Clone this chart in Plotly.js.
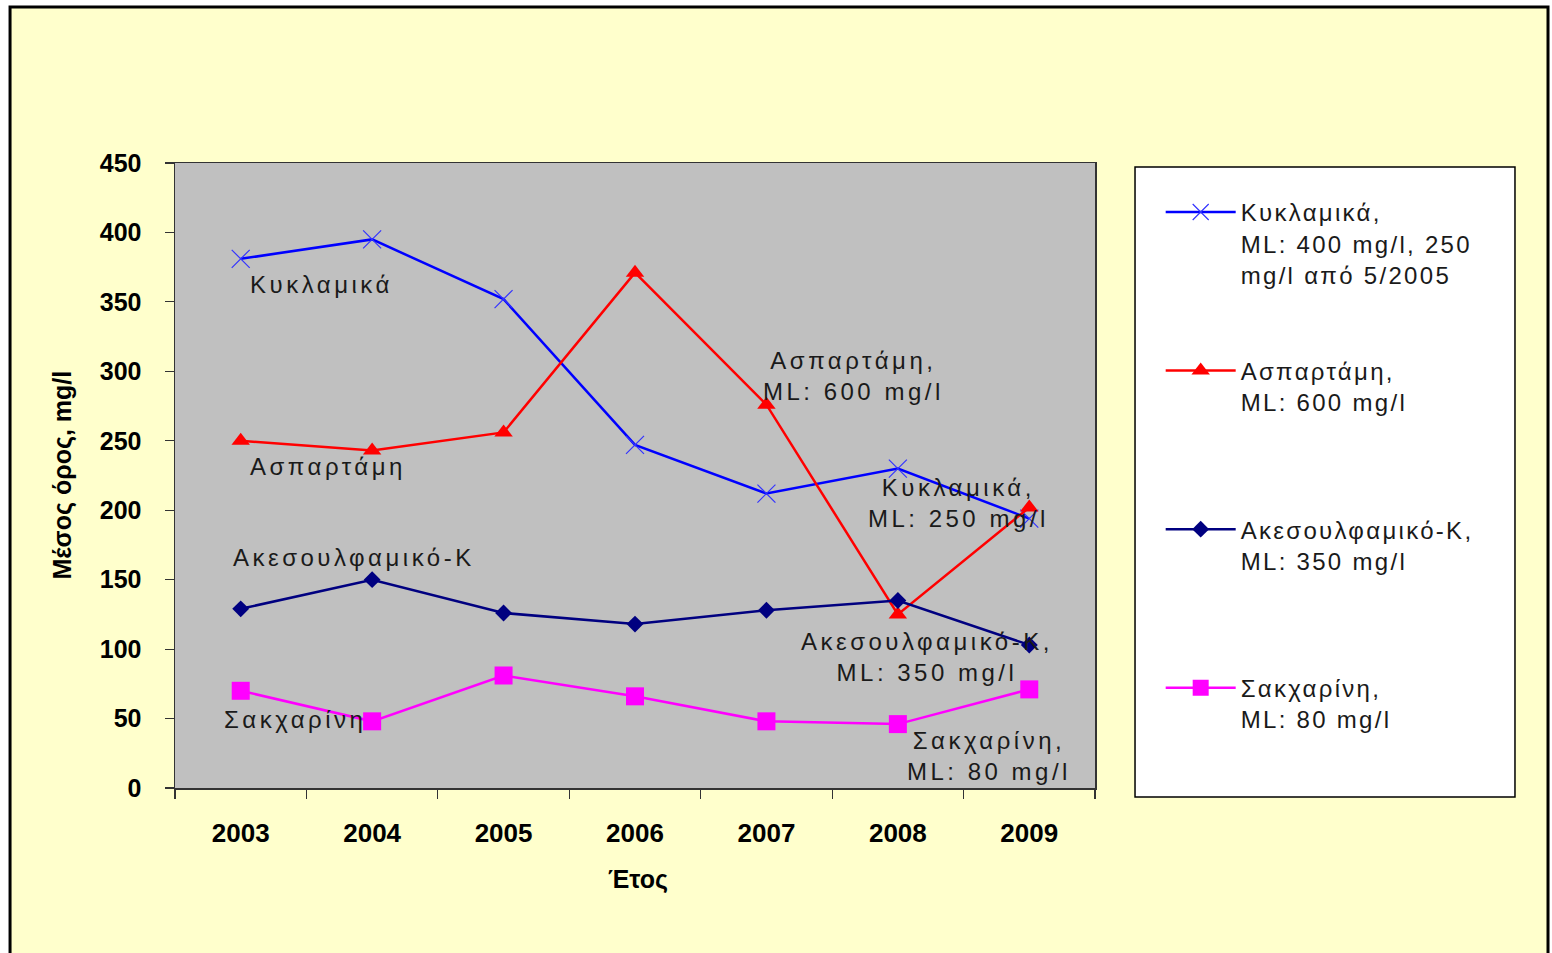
<!DOCTYPE html>
<html><head><meta charset="utf-8">
<script src="https://cdn.plot.ly/plotly-3.0.1.min.js"></script>
<style>
html,body{margin:0;padding:0;background:#fff;}
#chart{width:1552px;height:953px;}
text[style*="Liberation"]{letter-spacing:2.3px;}
text[style*="Liberation"][style*="Arial"]{letter-spacing:3.5px;}
</style>
</head><body><div id="chart"></div>
<script>
const years = ['2003','2004','2005','2006','2007','2008','2009'];
const kyklamika = [381, 395, 352, 247, 212, 230, 194];
const aspartami = [250, 243, 256, 371, 276, 125, 202];
const akesoulfamiko = [129, 150, 126, 118, 128, 135, 103];
const sakcharini = [70, 48, 81, 66, 48, 46, 71];
const yTickVals = [0, 50, 100, 150, 200, 250, 300, 350, 400, 450];
const seriesNames = [
  'Κυκλαμικά,<br>ML: 400 mg/l, 250<br>mg/l από 5/2005',
  'Ασπαρτάμη,<br>ML: 600 mg/l<br>&nbsp;',
  'Ακεσουλφαμικό-Κ,<br>ML: 350 mg/l<br>&nbsp;',
  'Σακχαρίνη,<br>ML: 80 mg/l<br>&nbsp;'
];
const xTitle = 'Έτος';
const yTitle = 'Μέσος όρος, mg/l';

const labelFont = {family: 'Liberation Sans', size: 24, color: '#1a1a1a'};
const annFont = {family: 'Liberation Sans, Arial', size: 24, color: '#1a1a1a'};

function tr(y, name, color, symbol, size, grp, extra) {
  return Object.assign({
    type: 'scatter', mode: 'lines+markers', x: years, y: y, name: name,
    legendgroup: grp,
    line: {color: color, width: 2.5},
    marker: {symbol: symbol, size: size, color: color}
  }, extra || {});
}

const data = [
  tr(kyklamika, seriesNames[0], '#0000FF', 'x-thin', 18, 'g1', {marker: {symbol: 'x-thin', size: 18, color: '#0000FF', line: {color: '#3333FF', width: 1.2}}}),
  tr(aspartami, seriesNames[1], '#FF0000', 'triangle-up', 16, 'g2'),
  tr(akesoulfamiko, seriesNames[2], '#000080', 'diamond', 13, 'g3'),
  tr(sakcharini, seriesNames[3], '#FF00FF', 'square', 18, 'g4')
];

// annotation anchored to a data point (category index i, value v)
function ann(i, v, text, xanchor, xshift, yshift) {
  return {xref: 'x', yref: 'y', x: i, y: v, text: text, showarrow: false,
    xanchor: xanchor, yanchor: 'middle', xshift: xshift, yshift: yshift,
    align: 'center', font: annFont};
}

const annotations = [
  ann(0, kyklamika[0], 'Κυκλαμικά', 'left', 7, -26),
  ann(0, aspartami[0], 'Ασπαρτάμη', 'left', 7, -26),
  ann(0, akesoulfamiko[0], 'Ακεσουλφαμικό-Κ', 'left', -10, 51),
  ann(0, sakcharini[0], 'Σακχαρίνη', 'left', -19, -29),
  ann(4, aspartami[4], 'Ασπαρτάμη,<br>ML: 600 mg/l', 'center', 87, 29),
  ann(6, kyklamika[6], 'Κυκλαμικά,<br>ML: 250 mg/l', 'center', -71, 16),
  ann(6, akesoulfamiko[6], 'Ακεσουλφαμικό-Κ,<br>ML: 350 mg/l', 'center', -102, -12),
  ann(6, sakcharini[6], 'Σακχαρίνη,<br>ML: 80 mg/l', 'center', -40, -67),
  {xref: 'paper', yref: 'paper', x: -0.1228, y: 0.5, text: yTitle, showarrow: false,
   textangle: -90, xanchor: 'center', yanchor: 'middle',
   font: {family: 'Arial', size: 25, color: '#000', weight: 'bold'}},
  {xref: 'paper', yref: 'paper', x: 0.5033, y: -0.1456, text: xTitle, showarrow: false,
   xanchor: 'center', yanchor: 'middle',
   font: {family: 'Arial', size: 25, color: '#000', weight: 'bold'}}
];

const shapes = [
  {type: 'rect', xref: 'paper', yref: 'paper', x0: -0.1793, x1: 1.4924, y0: -0.2832, y1: 1.2496,
   fillcolor: '#FFFFCC', line: {color: '#000', width: 3}, layer: 'below'},
  {type: 'rect', xref: 'paper', yref: 'paper', x0: 0, x1: 1, y0: 0, y1: 1,
   fillcolor: '#C0C0C0', line: {width: 0}, layer: 'below'},
  {type: 'rect', xref: 'paper', yref: 'paper', x0: 1.0435, x1: 1.4565, y0: -0.0144, y1: 0.9936,
   fillcolor: '#FFFFFF', line: {color: '#000', width: 1.5}, layer: 'below'}
];

const layout = {
  width: 1552, height: 953,
  margin: {l: 175, r: 457, t: 163, b: 165},
  paper_bgcolor: '#FFFFFF',
  plot_bgcolor: 'rgba(0,0,0,0)',
  showlegend: true,
  xaxis: {type: 'category', range: [-0.5, 6.5], tickson: 'boundaries', ticks: 'outside',
    ticklen: 9, tickwidth: 1.2, tickcolor: '#333', showline: true, mirror: true,
    linecolor: '#333', linewidth: 1.5, showgrid: false, zeroline: false,
    ticklabelstandoff: 21, fixedrange: true,
    tickfont: {family: 'Arial', size: 26, color: '#000', weight: 'bold'}},
  yaxis: {range: [0, 450], tickvals: yTickVals, ticks: 'outside', ticklen: 9, tickwidth: 1.2,
    tickcolor: '#333', showline: true, mirror: true, linecolor: '#333', linewidth: 1.5,
    showgrid: false, zeroline: false, ticklabelstandoff: 18, fixedrange: true,
    tickfont: {family: 'Arial', size: 25, color: '#000', weight: 'bold'}},
  legend: {x: 1.0714, xanchor: 'left', y: 0.957, yanchor: 'top', bgcolor: 'rgba(0,0,0,0)',
    borderwidth: 0, font: labelFont, itemwidth: 70, valign: 'top',
    tracegroupgap: 62, traceorder: 'grouped'},
  annotations: annotations,
  shapes: shapes
};

Plotly.newPlot('chart', data, layout, {displayModeBar: false, staticPlot: true});
</script>
</body></html>
